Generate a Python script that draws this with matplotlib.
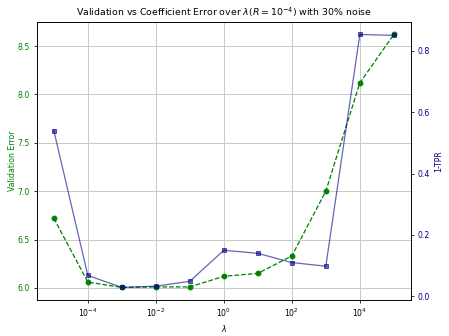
import matplotlib
matplotlib.use("Agg")
import matplotlib.pyplot as plt

plt.rcParams['font.size'] = 8

lambdas = [1e-5, 1e-4, 1e-3, 1e-2, 1e-1, 1e0, 1e1, 1e2, 1e3, 1e4, 1e5]
val_error = [6.72, 6.06, 6.005, 6.01, 6.01, 6.12, 6.15, 6.33, 7.00, 8.12, 8.62]
one_minus_tpr = [0.54, 0.068, 0.029, 0.033, 0.049, 0.15, 0.14, 0.11, 0.098, 0.853, 0.85]

fig, ax = plt.subplots(figsize=(449/70, 336/70), dpi=70)
fig.subplots_adjust(left=0.082, right=0.915, top=0.935, bottom=0.107)

ax.plot(lambdas, val_error, 'o--', color='green', markersize=5, linewidth=1.3)
ax.set_xscale('log')
ax.set_xlabel(r'$\lambda$')
ax.set_ylabel('Validation Error', color='green', labelpad=1)
ax.tick_params(axis='y', labelcolor='green')
ax.grid(True, color='#c8c8c8', linewidth=1.0)

ax2 = ax.twinx()
ax2.plot(lambdas, one_minus_tpr, 's-', color='darkblue', alpha=0.6, markersize=5, linewidth=1.3)
ax2.set_ylabel('1-TPR', color='darkblue')
ax2.tick_params(axis='y', labelcolor='darkblue')

ax.set_title(r'Validation vs Coefficient Error over $\lambda (R=10^{-4})$ with 30% noise')

fig.savefig('out.png', dpi=70)
